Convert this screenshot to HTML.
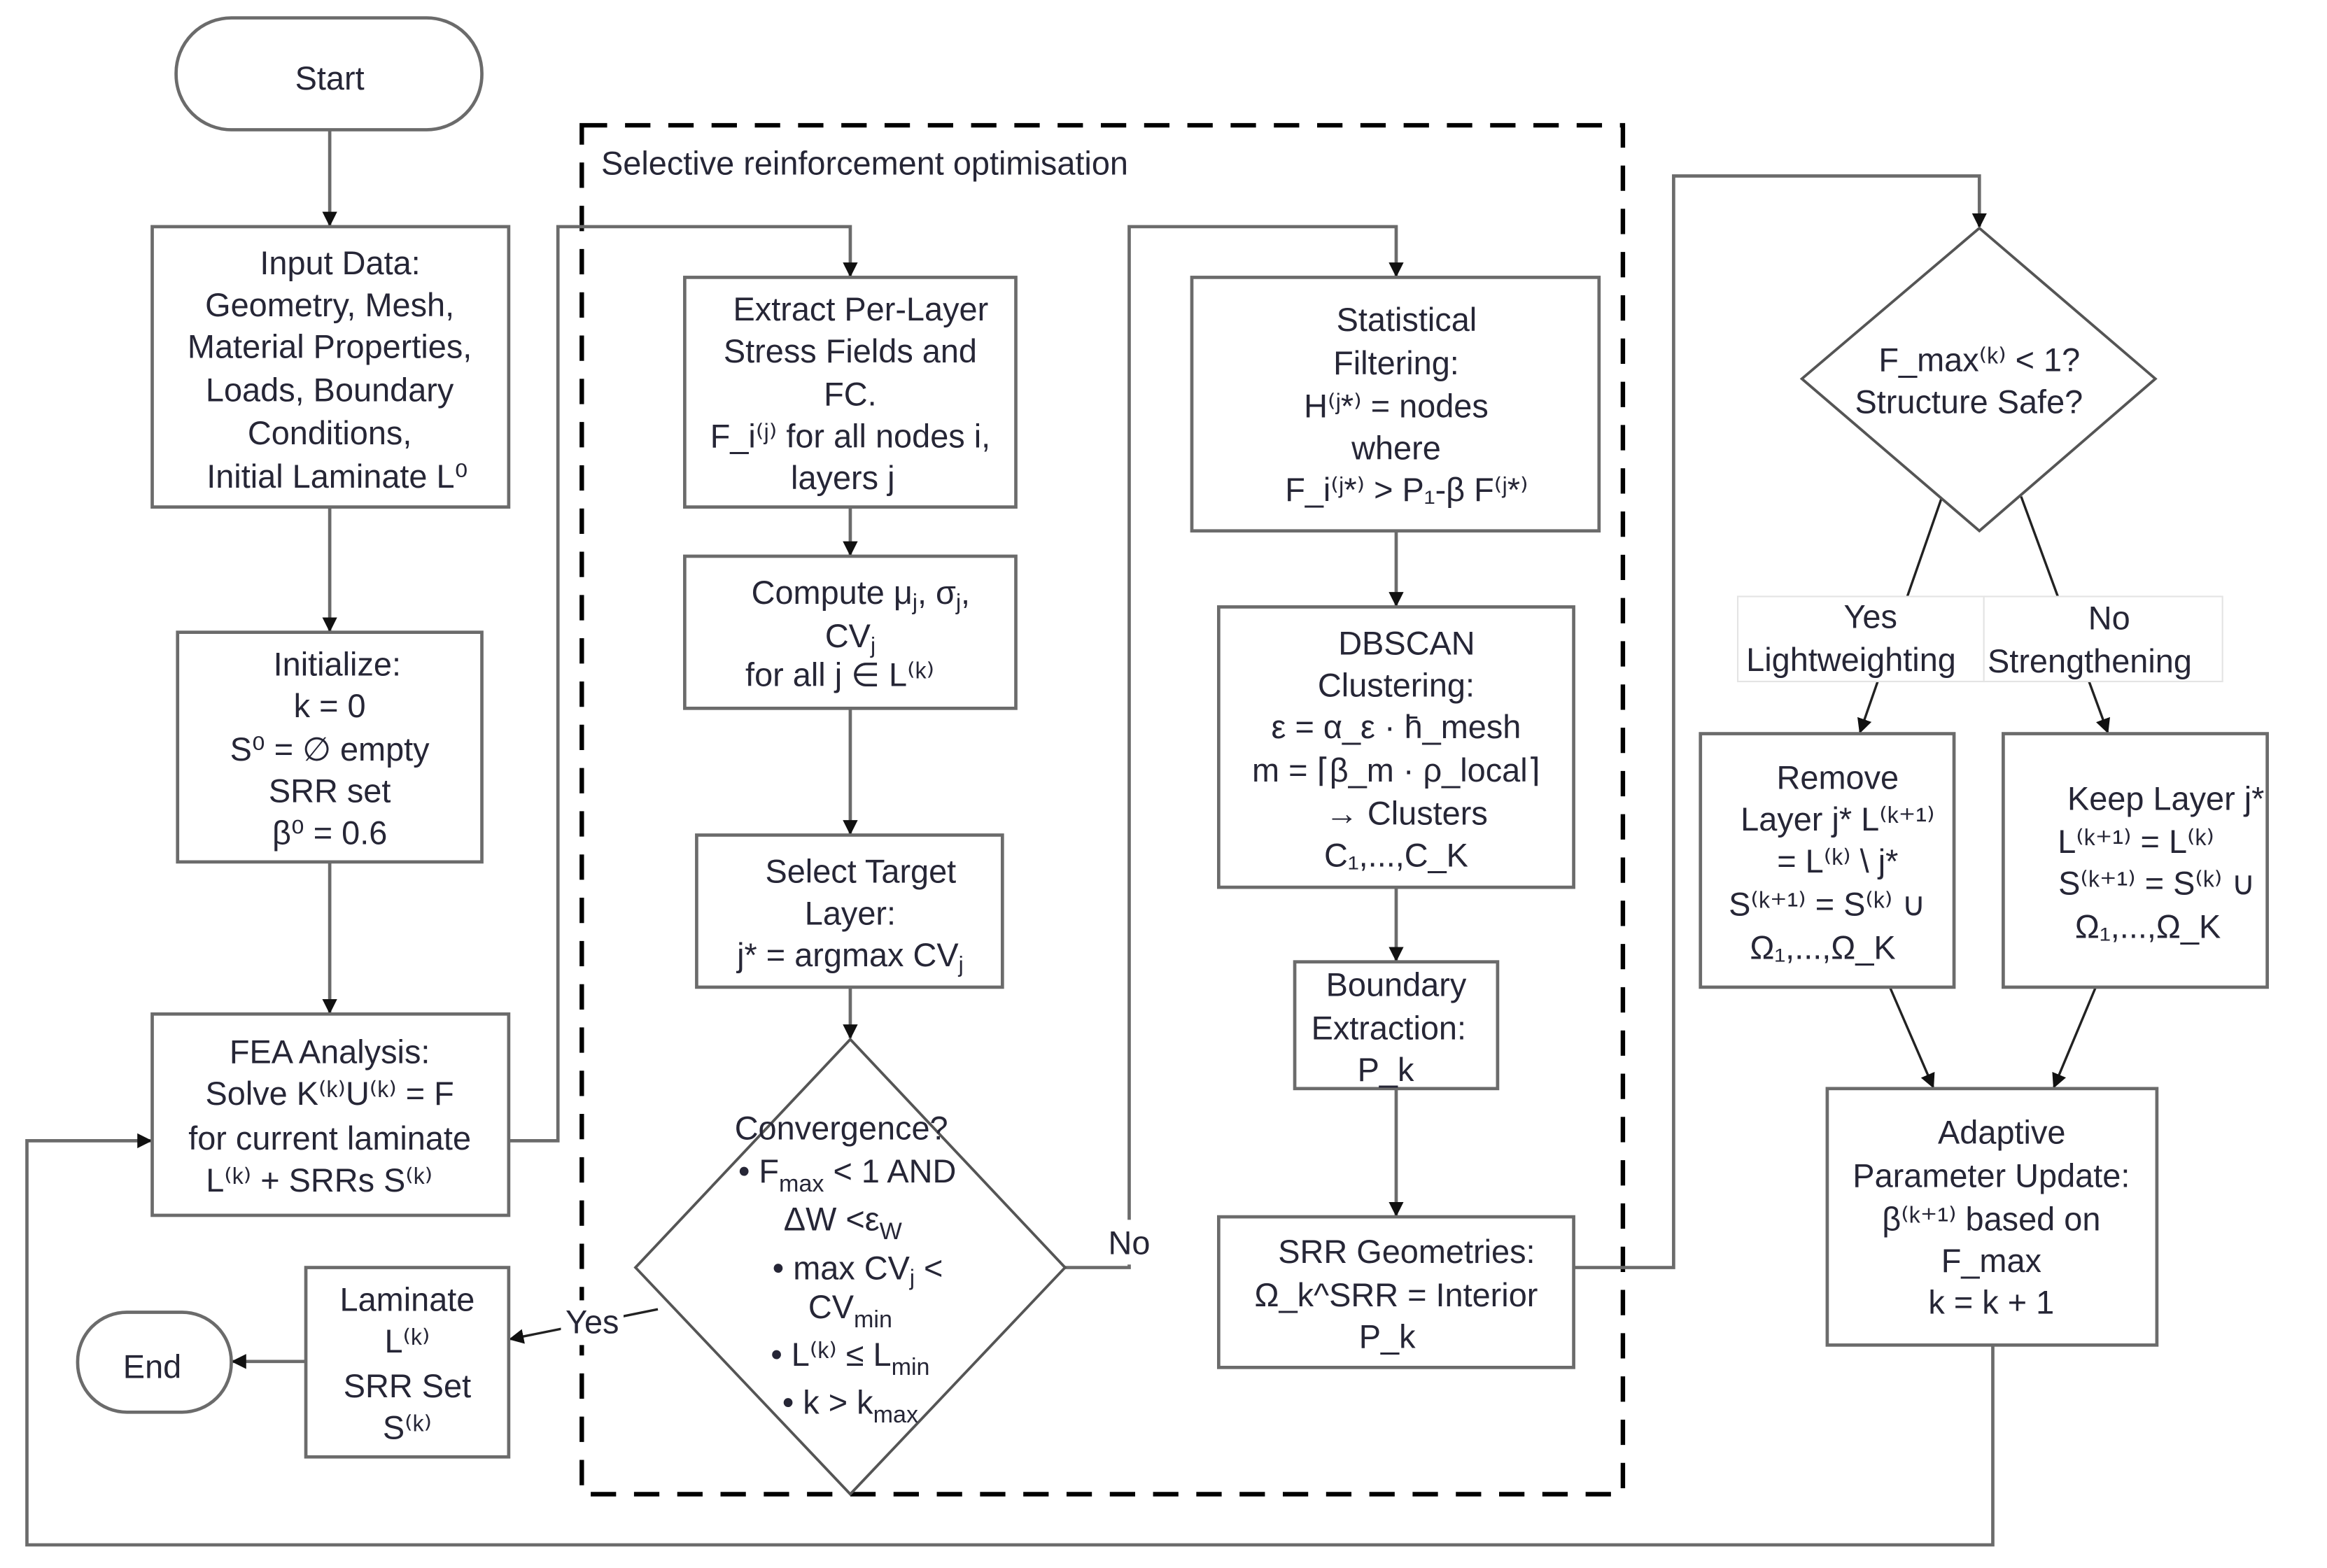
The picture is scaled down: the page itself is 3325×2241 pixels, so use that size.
<!DOCTYPE html>
<html><head><meta charset="utf-8"><style>
html,body{margin:0;padding:0;background:#fff}
svg{display:block}
text{font-family:"Liberation Sans",Arial,sans-serif;font-size:22px;fill:#262636;text-anchor:middle}
.b{fill:#fff;stroke:#6b6b6b;stroke-width:2.2}
.l{fill:none;stroke:#6b6b6b;stroke-width:2.2}
.k{fill:none;stroke:#222;stroke-width:1.6}
</style></head><body>
<svg width="3325" height="2241" viewBox="0 0 1560 1051.5" xmlns="http://www.w3.org/2000/svg">
<defs><marker id="a" markerWidth="10" markerHeight="10" refX="9" refY="5" orient="auto" markerUnits="userSpaceOnUse"><path d="M0,0 L10,5 L0,10 z" fill="#111"/></marker></defs>
<rect x="0" y="0" width="1560" height="1052" fill="#fff"/>

<rect x="390" y="84" width="698" height="918" fill="none" stroke="#000" stroke-width="3" stroke-dasharray="17,12"/>
<text x="403" y="117" style="text-anchor:start">Selective reinforcement optimisation</text>

<line class="l" x1="221" y1="87" x2="221" y2="151" marker-end="url(#a)"/>
<line class="l" x1="221" y1="340" x2="221" y2="423" marker-end="url(#a)"/>
<line class="l" x1="221" y1="578" x2="221" y2="679" marker-end="url(#a)"/>
<polyline class="l" points="341,765 374,765 374,152 570,152 570,185" marker-end="url(#a)"/>
<line class="l" x1="570" y1="340" x2="570" y2="372" marker-end="url(#a)"/>
<line class="l" x1="570" y1="475" x2="570" y2="559" marker-end="url(#a)"/>
<line class="l" x1="570" y1="662" x2="570" y2="696" marker-end="url(#a)"/>
<polyline class="l" points="714,850 757,850 757,152 936,152 936,185" marker-end="url(#a)"/>
<line class="k" x1="441" y1="878" x2="342" y2="898" marker-end="url(#a)"/>
<line class="l" x1="205" y1="913" x2="156" y2="913" marker-end="url(#a)"/>
<line class="l" x1="936" y1="356" x2="936" y2="406" marker-end="url(#a)"/>
<line class="l" x1="936" y1="595" x2="936" y2="644" marker-end="url(#a)"/>
<line class="l" x1="936" y1="730" x2="936" y2="815" marker-end="url(#a)"/>
<polyline class="l" points="1055,850 1122,850 1122,118 1327,118 1327,152" marker-end="url(#a)"/>
<line class="k" x1="1302" y1="333" x2="1247" y2="491" marker-end="url(#a)"/>
<line class="k" x1="1355" y1="333" x2="1413" y2="491" marker-end="url(#a)"/>
<line class="k" x1="1267" y1="662" x2="1296" y2="729" marker-end="url(#a)"/>
<line class="k" x1="1405" y1="662" x2="1377" y2="729" marker-end="url(#a)"/>
<polyline class="l" points="1336,902 1336,1036 18,1036 18,765 101,765" marker-end="url(#a)"/>

<rect class="b" x="118" y="12" width="205" height="75" rx="37"/>
<text x="221" y="60">Start</text>
<rect class="b" x="52" y="880" width="103" height="67" rx="33"/>
<text x="102" y="924">End</text>

<rect class="b" x="102" y="152" width="239" height="188"/>
<text x="228" y="184">Input Data:</text>
<text x="221" y="212">Geometry, Mesh,</text>
<text x="221" y="240">Material Properties,</text>
<text x="221" y="269">Loads, Boundary</text>
<text x="221" y="298">Conditions,</text>
<text x="226" y="327">Initial Laminate L⁰</text>

<rect class="b" x="119" y="424" width="204" height="154"/>
<text x="226" y="453">Initialize:</text>
<text x="221" y="481">k = 0</text>
<text x="221" y="510">S⁰ = ∅ empty</text>
<text x="221" y="538">SRR set</text>
<text x="221" y="566">β⁰ = 0.6</text>

<rect class="b" x="102" y="680" width="239" height="135"/>
<text x="221" y="713">FEA Analysis:</text>
<text x="221" y="741">Solve K⁽ᵏ⁾U⁽ᵏ⁾ = F</text>
<text x="221" y="771">for current laminate</text>
<text x="214" y="799">L⁽ᵏ⁾ + SRRs S⁽ᵏ⁾</text>

<rect class="b" x="459" y="186" width="222" height="154"/>
<text x="577" y="215">Extract Per-Layer</text>
<text x="570" y="243">Stress Fields and</text>
<text x="570" y="272">FC.</text>
<text x="570" y="300">F_i⁽ʲ⁾ for all nodes i,</text>
<text x="565" y="328">layers j</text>

<rect class="b" x="459" y="373" width="222" height="102"/>
<text x="577" y="405">Compute μ<tspan font-size="15" dy="4">j</tspan><tspan dy="-4">, σ</tspan><tspan font-size="15" dy="4">j</tspan><tspan dy="-4">,</tspan></text>
<text x="570" y="434">CV<tspan font-size="15" dy="4">j</tspan></text>
<text x="563" y="460">for all j ∈ L⁽ᵏ⁾</text>

<rect class="b" x="467" y="560" width="205" height="102"/>
<text x="577" y="592">Select Target</text>
<text x="570" y="620">Layer:</text>
<text x="570" y="648">j* = argmax CV<tspan font-size="15" dy="4">j</tspan></text>

<polygon class="b" points="570,697 714,850 570,1002 426,850" style="stroke:#555;stroke-width:1.8"/>
<text x="564" y="764">Convergence?</text>
<text x="568" y="793">• F<tspan font-size="16" dy="6">max</tspan><tspan dy="-6"> &lt; 1 AND</tspan></text>
<text x="565" y="825">ΔW &lt;ε<tspan font-size="16" dy="6">W</tspan></text>
<text x="575" y="858">• max CV<tspan font-size="15" dy="4">j</tspan><tspan dy="-4"> &lt;</tspan></text>
<text x="570" y="884">CV<tspan font-size="16" dy="6">min</tspan></text>
<text x="570" y="916">• L⁽ᵏ⁾ ≤ L<tspan font-size="16" dy="6">min</tspan></text>
<text x="570" y="948">• k &gt; k<tspan font-size="16" dy="6">max</tspan></text>
<rect x="738" y="818" width="36" height="30" fill="#fff"/>
<text x="757" y="841">No</text>
<rect x="376" y="872" width="42" height="30" fill="#fff"/>
<text x="397" y="894">Yes</text>

<rect class="b" x="205" y="850" width="136" height="127"/>
<text x="273" y="879">Laminate</text>
<text x="273" y="907">L⁽ᵏ⁾</text>
<text x="273" y="937">SRR Set</text>
<text x="273" y="965">S⁽ᵏ⁾</text>

<rect class="b" x="799" y="186" width="273" height="170"/>
<text x="943" y="222">Statistical</text>
<text x="936" y="251">Filtering:</text>
<text x="936" y="280">H⁽ʲ*⁾ = nodes</text>
<text x="936" y="308">where</text>
<text x="943" y="336">F_i⁽ʲ*⁾ &gt; P₁-β F⁽ʲ*⁾</text>

<rect class="b" x="817" y="407" width="238" height="188"/>
<text x="943" y="439">DBSCAN</text>
<text x="936" y="467">Clustering:</text>
<text x="936" y="495">ε = α_ε · h̄_mesh</text>
<text x="936" y="524">m = ⌈β_m · ρ_local⌉</text>
<text x="943" y="553">→ Clusters</text>
<text x="936" y="581">C₁,...,C_K</text>

<rect class="b" x="868" y="645" width="136" height="85"/>
<text x="936" y="668">Boundary</text>
<text x="931" y="697">Extraction:</text>
<text x="929" y="725">P_k</text>

<rect class="b" x="817" y="816" width="238" height="101"/>
<text x="943" y="847">SRR Geometries:</text>
<text x="936" y="876">Ω_k^SRR = Interior</text>
<text x="930" y="904">P_k</text>

<polygon class="b" points="1327,153 1445,254 1327,356 1208,254" style="stroke:#555;stroke-width:1.8"/>
<text x="1327" y="249">F_max⁽ᵏ⁾ &lt; 1?</text>
<text x="1320" y="277">Structure Safe?</text>

<rect x="1165" y="400" width="165" height="57" fill="#fff" stroke="#e4e4e4" stroke-width="1"/>
<text x="1254" y="421">Yes</text>
<text x="1241" y="450">Lightweighting</text>
<rect x="1330" y="400" width="160" height="57" fill="#fff" stroke="#e4e4e4" stroke-width="1"/>
<text x="1414" y="422">No</text>
<text x="1401" y="451">Strengthening</text>

<rect class="b" x="1140" y="492" width="170" height="170"/>
<text x="1232" y="529">Remove</text>
<text x="1232" y="557">Layer j* L⁽ᵏ⁺¹⁾</text>
<text x="1232" y="585">= L⁽ᵏ⁾ \ j*</text>
<text x="1225" y="614">S⁽ᵏ⁺¹⁾ = S⁽ᵏ⁾ ∪</text>
<text x="1222" y="643">Ω₁,...,Ω_K</text>

<rect class="b" x="1343" y="492" width="177" height="170"/>
<text x="1452" y="543">Keep Layer j*</text>
<text x="1432" y="572">L⁽ᵏ⁺¹⁾ = L⁽ᵏ⁾</text>
<text x="1446" y="600">S⁽ᵏ⁺¹⁾ = S⁽ᵏ⁾ ∪</text>
<text x="1440" y="629">Ω₁,...,Ω_K</text>

<rect class="b" x="1225" y="730" width="221" height="172"/>
<text x="1342" y="767">Adaptive</text>
<text x="1335" y="796">Parameter Update:</text>
<text x="1335" y="825">β⁽ᵏ⁺¹⁾ based on</text>
<text x="1335" y="853">F_max</text>
<text x="1335" y="881">k = k + 1</text>
</svg>
</body></html>
